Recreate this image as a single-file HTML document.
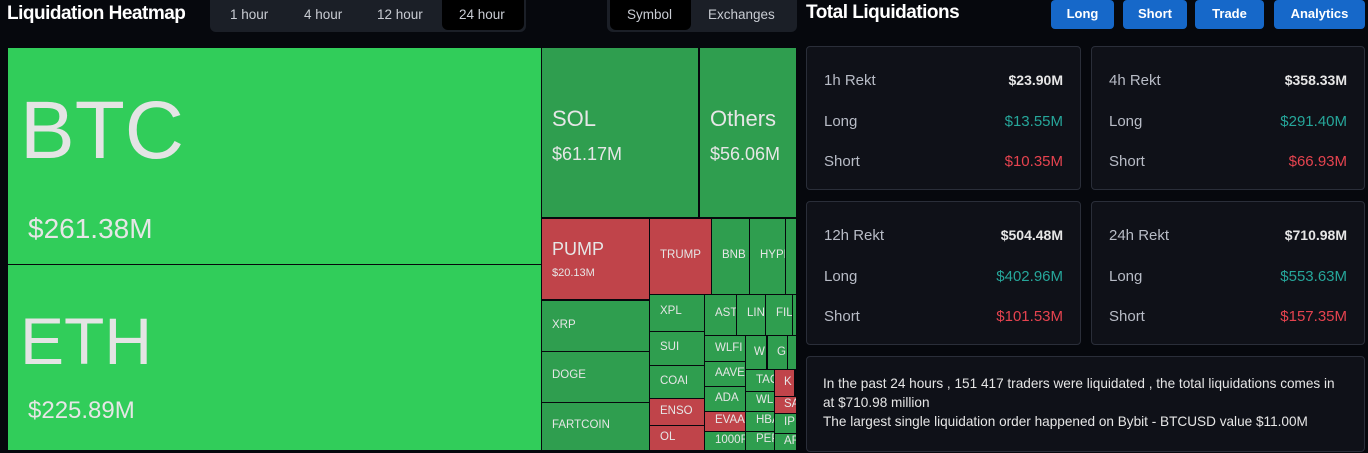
<!DOCTYPE html>
<html><head><meta charset="utf-8"><style>
*{margin:0;padding:0;box-sizing:border-box}
body{width:1368px;height:453px;background:#06080d;position:relative;overflow:hidden;font-family:"Liberation Sans",sans-serif;color:#fff}
.a{position:absolute}
.c{position:absolute;overflow:hidden;color:#e6e6e6;font-size:12px;white-space:nowrap}
.c .a{font-size:11.5px}
.g{background:#2f9e4f}.b{background:#31cd5a}.r{background:#c0444a}
.t{position:absolute;font-size:13.5px;color:#c9ccd3}
.btn{position:absolute;top:0;height:29px;background:#1668c9;border-radius:4px;color:#fff;font-weight:bold;font-size:13px;text-align:center;line-height:28px}
.card{position:absolute;background:#0f1118;border:1px solid #2a2e39;border-radius:4px}
.row{position:absolute;left:17px;right:17px;font-size:15px;color:#b8bcc6}
.row span{position:absolute;right:0}
</style></head><body>
<div class="a" style="left:7px;top:3px;font-size:19px;font-weight:bold;letter-spacing:-0.5px">Liquidation Heatmap</div>
<div class="a" style="left:210px;top:0;width:316px;height:32px;background:#1b1f27;border-radius:0 0 6px 6px"></div>
<div class="a" style="left:442px;top:0;width:82px;height:30px;background:#000;border-radius:0 0 6px 6px"></div>
<div class="t" style="left:230px;top:7px">1 hour</div>
<div class="t" style="left:304px;top:7px">4 hour</div>
<div class="t" style="left:377px;top:7px">12 hour</div>
<div class="t" style="left:459px;top:7px">24 hour</div>
<div class="a" style="left:607px;top:0;width:190px;height:32px;background:#1b1f27;border-radius:0 0 6px 6px"></div>
<div class="a" style="left:610px;top:0;width:81px;height:30px;background:#000;border-radius:0 0 6px 6px"></div>
<div class="t" style="left:627px;top:7px">Symbol</div>
<div class="t" style="left:708px;top:7px">Exchanges</div>

<div class="c b" style="left:8px;top:48px;width:533px;height:216px"><div class="a" style="left:12px;top:36px;font-size:82px;color:#e4e4e4">BTC</div><div class="a" style="left:20px;top:165px;font-size:28px">$261.38M</div></div>
<div class="c b" style="left:8px;top:265px;width:533px;height:185px"><div class="a" style="left:12px;top:38px;font-size:66px;color:#e4e4e4">ETH</div><div class="a" style="left:20px;top:132px;font-size:24px">$225.89M</div></div>
<div class="c g" style="left:542px;top:48px;width:156px;height:169px"><div class="a" style="left:10px;top:58px;font-size:22px">SOL</div><div class="a" style="left:10px;top:96px;font-size:18px">$61.17M</div></div>
<div class="c g" style="left:700px;top:48px;width:96px;height:169px"><div class="a" style="left:10px;top:58px;font-size:22px">Others</div><div class="a" style="left:10px;top:96px;font-size:18px">$56.06M</div></div>
<div class="c r" style="left:542px;top:219px;width:107px;height:80px"><div class="a" style="left:10px;top:20px;font-size:18px">PUMP</div><div class="a" style="left:10px;top:48px;font-size:11px">$20.13M</div></div>
<div class="c r" style="left:650px;top:219px;width:61px;height:75px"><div class="a" style="left:10px;top:30px">TRUMP</div></div>
<div class="c g" style="left:712px;top:219px;width:37px;height:75px"><div class="a" style="left:10px;top:30px">BNB</div></div>
<div class="c g" style="left:750px;top:219px;width:35px;height:75px"><div class="a" style="left:10px;top:30px">HYPE</div></div>
<div class="c g" style="left:786px;top:219px;width:10px;height:75px"></div>
<div class="c g" style="left:542px;top:301px;width:107px;height:50px"><div class="a" style="left:10px;top:18px">XRP</div></div>
<div class="c g" style="left:542px;top:352px;width:107px;height:50px"><div class="a" style="left:10px;top:17px">DOGE</div></div>
<div class="c g" style="left:542px;top:403px;width:107px;height:47px"><div class="a" style="left:10px;top:16px">FARTCOIN</div></div>
<div class="c g" style="left:650px;top:295px;width:54px;height:36px"><div class="a" style="left:10px;top:10px">XPL</div></div>
<div class="c g" style="left:650px;top:332px;width:54px;height:33px"><div class="a" style="left:10px;top:9px">SUI</div></div>
<div class="c g" style="left:650px;top:366px;width:54px;height:32px"><div class="a" style="left:10px;top:9px">COAI</div></div>
<div class="c r" style="left:650px;top:399px;width:54px;height:26px"><div class="a" style="left:10px;top:6px">ENSO</div></div>
<div class="c r" style="left:650px;top:426px;width:54px;height:24px"><div class="a" style="left:10px;top:5px">OL</div></div>
<div class="c g" style="left:705px;top:295px;width:31px;height:40px"><div class="a" style="left:10px;top:12px">AST</div></div>
<div class="c g" style="left:737px;top:295px;width:28px;height:40px"><div class="a" style="left:10px;top:12px">LINK</div></div>
<div class="c g" style="left:766px;top:295px;width:26px;height:40px"><div class="a" style="left:10px;top:12px">FIL</div></div>
<div class="c g" style="left:793px;top:295px;width:3px;height:40px"></div>
<div class="c g" style="left:705px;top:336px;width:40px;height:25px"><div class="a" style="left:10px;top:6px">WLFI</div></div>
<div class="c g" style="left:705px;top:362px;width:40px;height:24px"><div class="a" style="left:10px;top:5px">AAVE</div></div>
<div class="c g" style="left:705px;top:387px;width:40px;height:24px"><div class="a" style="left:10px;top:5px">ADA</div></div>
<div class="c r" style="left:705px;top:412px;width:40px;height:19px"><div class="a" style="left:10px;top:2px">EVAA</div></div>
<div class="c g" style="left:705px;top:432px;width:40px;height:18px"><div class="a" style="left:10px;top:2px">1000F</div></div>
<div class="c g" style="left:746px;top:336px;width:20px;height:33px"><div class="a" style="left:8px;top:10px">W</div></div>
<div class="c g" style="left:768px;top:336px;width:19px;height:33px"><div class="a" style="left:9px;top:10px">G</div></div>
<div class="c g" style="left:788px;top:336px;width:8px;height:33px"></div>
<div class="c g" style="left:746px;top:370px;width:28px;height:21px"><div class="a" style="left:10px;top:4px">TAO</div></div>
<div class="c r" style="left:775px;top:370px;width:19px;height:26px"><div class="a" style="left:9px;top:6px">K</div></div>
<div class="c g" style="left:746px;top:392px;width:28px;height:19px"><div class="a" style="left:10px;top:2px">WLD</div></div>
<div class="c r" style="left:775px;top:397px;width:21px;height:16px"><div class="a" style="left:9px;top:1px">SA</div></div>
<div class="c g" style="left:746px;top:412px;width:28px;height:19px"><div class="a" style="left:10px;top:2px">HBAR</div></div>
<div class="c g" style="left:775px;top:414px;width:21px;height:19px"><div class="a" style="left:9px;top:2px">IP</div></div>
<div class="c g" style="left:746px;top:432px;width:28px;height:18px"><div class="a" style="left:10px;top:1px">PEPE</div></div>
<div class="c g" style="left:775px;top:434px;width:21px;height:16px"><div class="a" style="left:9px;top:1px">AR</div></div>

<div class="a" style="left:806px;top:2px;font-size:19px;font-weight:bold;letter-spacing:-0.5px">Total Liquidations</div>
<div class="btn" style="left:1051px;width:63px">Long</div>
<div class="btn" style="left:1123px;width:64px">Short</div>
<div class="btn" style="left:1195px;width:69px">Trade</div>
<div class="btn" style="left:1274px;width:91px">Analytics</div>

<div class="card" style="left:806px;top:46px;width:275px;height:144px">
<div class="row" style="top:25px">1h Rekt<span style="color:#e6e6e6;font-weight:bold;font-size:14px">$23.90M</span></div>
<div class="row" style="top:66px">Long<span style="color:#26a69a">$13.55M</span></div>
<div class="row" style="top:106px">Short<span style="color:#e5434f">$10.35M</span></div></div>
<div class="card" style="left:1091px;top:46px;width:274px;height:144px">
<div class="row" style="top:25px">4h Rekt<span style="color:#e6e6e6;font-weight:bold;font-size:14px">$358.33M</span></div>
<div class="row" style="top:66px">Long<span style="color:#26a69a">$291.40M</span></div>
<div class="row" style="top:106px">Short<span style="color:#e5434f">$66.93M</span></div></div>
<div class="card" style="left:806px;top:201px;width:275px;height:144px">
<div class="row" style="top:25px">12h Rekt<span style="color:#e6e6e6;font-weight:bold;font-size:14px">$504.48M</span></div>
<div class="row" style="top:66px">Long<span style="color:#26a69a">$402.96M</span></div>
<div class="row" style="top:106px">Short<span style="color:#e5434f">$101.53M</span></div></div>
<div class="card" style="left:1091px;top:201px;width:274px;height:144px">
<div class="row" style="top:25px">24h Rekt<span style="color:#e6e6e6;font-weight:bold;font-size:14px">$710.98M</span></div>
<div class="row" style="top:66px">Long<span style="color:#26a69a">$553.63M</span></div>
<div class="row" style="top:106px">Short<span style="color:#e5434f">$157.35M</span></div></div>
<div class="card" style="left:806px;top:356px;width:559px;height:96px;font-size:13.6px;color:#e6e6e6;line-height:19px;padding:17px 0 0 16px;white-space:nowrap">In the past 24 hours , 151 417 traders were liquidated , the total liquidations comes in<br>at $710.98 million<br>The largest single liquidation order happened on Bybit - BTCUSD value $11.00M</div>
</body></html>
